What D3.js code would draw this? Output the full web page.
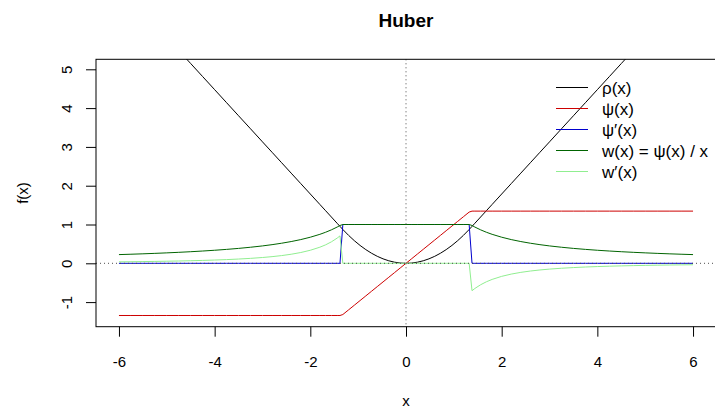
<!DOCTYPE html>
<html><head><meta charset="utf-8">
<script src="https://cdn.jsdelivr.net/npm/d3@7"></script>
<style>
body{margin:0;background:#fff}
svg{display:block}
text{font-family:"Liberation Sans",Arial,Helvetica,sans-serif;fill:#000}
</style>
</head><body>
<svg id="chart" width="715" height="414"></svg>
<script>
// ---- data ----
const xs = [-6,-5.75,-5.5,-5.25,-5,-4.75,-4.5,-4.25,-4,-3.75,-3.5,-3.25,-3,-2.8,-2.6,-2.4,-2.2,-2,-1.8,-1.68,-1.56,-1.44,-1.38,
  -1.32,-1.2,-1.08,-0.96,-0.84,-0.72,-0.6,-0.48,-0.36,-0.24,-0.12,0,0.12,0.24,0.36,0.48,0.6,0.72,0.84,0.96,1.08,1.2,1.32,
  1.38,1.44,1.56,1.68,1.8,2,2.2,2.4,2.6,2.8,3,3.25,3.5,3.75,4,4.25,4.5,4.75,5,5.25,5.5,5.75,6];
const rho = [7.1655,6.8293,6.493,6.1568,5.8205,5.4843,5.148,4.8118,4.4755,4.1393,3.803,3.4668,3.1305,2.8615,2.5925,2.3235,2.0545,1.7855,1.5165,1.3551,1.1937,1.0323,0.9516,
  0.8712,0.72,0.5832,0.4608,0.3528,0.2592,0.18,0.1152,0.0648,0.0288,0.0072,0,0.0072,0.0288,0.0648,0.1152,0.18,0.2592,0.3528,0.4608,0.5832,0.72,0.8712,
  0.9516,1.0323,1.1937,1.3551,1.5165,1.7855,2.0545,2.3235,2.5925,2.8615,3.1305,3.4668,3.803,4.1393,4.4755,4.8118,5.148,5.4843,5.8205,6.1568,6.493,6.8293,7.1655];
const psi = [-1.345,-1.345,-1.345,-1.345,-1.345,-1.345,-1.345,-1.345,-1.345,-1.345,-1.345,-1.345,-1.345,-1.345,-1.345,-1.345,-1.345,-1.345,-1.345,-1.345,-1.345,-1.345,-1.345,
  -1.32,-1.2,-1.08,-0.96,-0.84,-0.72,-0.6,-0.48,-0.36,-0.24,-0.12,0,0.12,0.24,0.36,0.48,0.6,0.72,0.84,0.96,1.08,1.2,1.32,
  1.345,1.345,1.345,1.345,1.345,1.345,1.345,1.345,1.345,1.345,1.345,1.345,1.345,1.345,1.345,1.345,1.345,1.345,1.345,1.345,1.345,1.345,1.345];
const dpsi = [0,0,0,0,0,0,0,0,0,0,0,0,0,0,0,0,0,0,0,0,0,0,0,
  1,1,1,1,1,1,1,1,1,1,1,1,1,1,1,1,1,1,1,1,1,1,1,
  0,0,0,0,0,0,0,0,0,0,0,0,0,0,0,0,0,0,0,0,0,0,0];
const wgt = [0.2242,0.2339,0.2445,0.2562,0.269,0.2832,0.2989,0.3165,0.3363,0.3587,0.3843,0.4138,0.4483,0.4804,0.5173,0.5604,0.6114,0.6725,0.7472,0.8006,0.8622,0.934,0.9746,
  1,1,1,1,1,1,1,1,1,1,1,1,1,1,1,1,1,1,1,1,1,1,1,
  0.9746,0.934,0.8622,0.8006,0.7472,0.6725,0.6114,0.5604,0.5173,0.4804,0.4483,0.4138,0.3843,0.3587,0.3363,0.3165,0.2989,0.2832,0.269,0.2562,0.2445,0.2339,0.2242];
const dwgt = [0.0374,0.0407,0.0445,0.0488,0.0538,0.0596,0.0664,0.0745,0.0841,0.0956,0.1098,0.1273,0.1494,0.1716,0.199,0.2335,0.2779,0.3363,0.4151,0.4765,0.5527,0.6486,0.7063,
  0,0,0,0,0,0,0,0,0,0,0,0,0,0,0,0,0,0,0,0,0,0,0,
  -0.7063,-0.6486,-0.5527,-0.4765,-0.4151,-0.3363,-0.2779,-0.2335,-0.199,-0.1716,-0.1494,-0.1273,-0.1098,-0.0956,-0.0841,-0.0745,-0.0664,-0.0596,-0.0538,-0.0488,-0.0445,-0.0407,-0.0374];
const seriesLabels = ["ρ(x)", "ψ(x)", "ψ′(x)", "w(x) = ψ(x) / x", "w′(x)"];
const xTicks = [-6,-4,-2,0,2,4,6];
const yTicks = [-1,0,1,2,3,4,5];
const titleText = "Huber";

// ---- styles / layout ----
const seriesData = [rho, psi, dpsi, wgt, dwgt];
const colors = ["#000000", "#CD0000", "#0000CD", "#006400", "#90EE90"];
const L = 96, R = 716, T = 59.3, B = 326.7;
const fam = '"Liberation Sans",Arial,sans-serif';
const fmt = d => String(d);   // plain hyphen-minus like R

const svg = d3.select("#chart");
const x = d3.scaleLinear().domain([-6.48, 6.48]).range([L, R]);
const y = d3.scaleLinear().domain([-1.634, 5.258]).range([B, T]);

svg.append("defs").append("clipPath").attr("id", "plotclip")
  .append("rect").attr("x", L).attr("y", T).attr("width", R - L).attr("height", B - T);

const plot = svg.append("g").attr("clip-path", "url(#plotclip)");
const line = d3.line().x((d, i) => x(xs[i])).y(d => y(d));
seriesData.forEach((s, k) => {
  plot.append("path").datum(s).attr("d", line)
    .attr("fill", "none").attr("stroke", colors[k]).attr("stroke-width", 1);
});
// reference lines h=0, v=0 (dotted)
plot.append("line").attr("x1", L).attr("x2", R).attr("y1", y(0)).attr("y2", y(0))
  .attr("stroke", "#4D4D4D").attr("stroke-width", 1).attr("stroke-dasharray", "1,3");
plot.append("line").attr("x1", x(0)).attr("x2", x(0)).attr("y1", T).attr("y2", B)
  .attr("stroke", "#4D4D4D").attr("stroke-width", 1).attr("stroke-dasharray", "1,3");

// box
svg.append("rect").attr("x", L).attr("y", T).attr("width", R - L).attr("height", B - T)
  .attr("fill", "none").attr("stroke", "#000").attr("stroke-width", 1);

// x axis
const gx = svg.append("g").attr("transform", `translate(0,${B})`)
  .call(d3.axisBottom(x).tickValues(xTicks).tickSize(10).tickFormat(fmt));
gx.select(".domain").remove();
gx.selectAll("line").attr("stroke", "#000");
gx.selectAll("text").attr("y", 40).attr("dy", 0).attr("font-size", 15)
  .style("font-family", fam).attr("fill", "#000");

// y axis
const gy = svg.append("g").attr("transform", `translate(${L},0)`)
  .call(d3.axisLeft(y).tickValues(yTicks).tickSize(10).tickFormat(fmt));
gy.select(".domain").remove();
gy.selectAll("line").attr("stroke", "#000");
gy.selectAll("text").attr("x", 0).attr("dy", "0.36em").attr("text-anchor", "middle")
  .attr("transform", "translate(-29,0) rotate(-90)").attr("font-size", 15)
  .style("font-family", fam).attr("fill", "#000");

// titles
svg.append("text").attr("x", (L + R) / 2).attr("y", 26.5).attr("text-anchor", "middle")
  .attr("font-size", 19).attr("font-weight", "bold").text(titleText);
svg.append("text").attr("x", (L + R) / 2).attr("y", 406).attr("text-anchor", "middle")
  .attr("font-size", 15).text("x");
svg.append("text").attr("transform", `translate(23,${(T + B) / 2}) rotate(-90)`)
  .attr("text-anchor", "middle").attr("dy", "0.32em").attr("font-size", 15).text("f(x)");

// legend
const leg = svg.append("g");
seriesLabels.forEach((lab, k) => {
  const ry = 87.5 + k * 21;
  leg.append("line").attr("x1", 556).attr("x2", 588).attr("y1", ry).attr("y2", ry)
    .attr("stroke", colors[k]).attr("stroke-width", 1);
  leg.append("text").attr("x", 602).attr("y", ry).attr("dy", "0.36em")
    .attr("font-size", 17).text(lab);
});
</script>
</body></html>
